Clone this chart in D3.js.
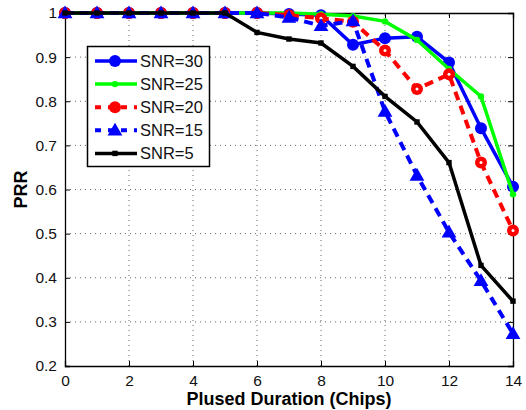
<!DOCTYPE html>
<html>
<head>
<meta charset="utf-8">
<script src="https://cdn.jsdelivr.net/npm/d3@7"></script>
<style>
  body { margin: 0; background: #fff; }
  text { font-family: "Liberation Sans", Arial, sans-serif; }
</style>
</head>
<body>
<div id="chart"></div>
<script>
// data
const durations = [0, 1, 2, 3, 4, 5, 6, 7, 8, 9, 10, 11, 12, 13, 14]
const snr30 = [1, 1, 1, 1, 1, 1, 1, 0.998, 0.995, 0.928, 0.943, 0.946, 0.888, 0.739, 0.606]
const snr25 = [1, 1, 1, 1, 1, 1, 1, 1, 0.997, 0.993, 0.981, 0.939, 0.873, 0.811, 0.589]
const snr20 = [1, 1, 1, 1, 1, 1, 1, 0.995, 0.988, 0.98, 0.915, 0.828, 0.861, 0.661, 0.507]
const snr15 = [1, 1, 1, 1, 1, 1, 1, 0.99, 0.971, 0.982, 0.777, 0.632, 0.503, 0.393, 0.273]
const snr5 = [1, 1, 1, 1, 1, 1, 0.956, 0.941, 0.932, 0.879, 0.811, 0.753, 0.661, 0.428, 0.347]
const xTicks = [0, 2, 4, 6, 8, 10, 12, 14]
const yTicks = [0.2, 0.3, 0.4, 0.5, 0.6, 0.7, 0.8, 0.9, 1]

const series = [
  {name: "SNR=30", values: snr30, color: "#0000ff", dash: null, marker: "circle", r: 6},
  {name: "SNR=25", values: snr25, color: "#00ff00", dash: null, marker: "dot", r: 3.2},
  {name: "SNR=20", values: snr20, color: "#ff0000", dash: "9,6", marker: "ring", r: 6},
  {name: "SNR=15", values: snr15, color: "#0000ff", dash: "9,6", marker: "triangle", r: 7.5},
  {name: "SNR=5", values: snr5, color: "#000000", dash: null, marker: "square", r: 2.7}
]

const width = 526
const height = 410
const margin = {top: 13, right: 13, bottom: 44, left: 65}

const svg = d3.select("#chart")
  .append("svg")
    .attr("width", width)
    .attr("height", height)

const x = d3.scaleLinear().domain([0, 14]).range([margin.left, width - margin.right])
const y = d3.scaleLinear().domain([0.2, 1]).range([height - margin.bottom, margin.top])

// dotted grid
svg.append("g").selectAll("line")
  .data(xTicks.slice(1, -1))
  .join("line")
    .attr("x1", d => x(d)).attr("x2", d => x(d))
    .attr("y1", y(0.2)).attr("y2", y(1))
    .attr("stroke", "#666").attr("stroke-width", 1).attr("stroke-dasharray", "1,4")
svg.append("g").selectAll("line")
  .data(yTicks.slice(1, -1))
  .join("line")
    .attr("x1", x(0)).attr("x2", x(14))
    .attr("y1", d => y(d)).attr("y2", d => y(d))
    .attr("stroke", "#666").attr("stroke-width", 1).attr("stroke-dasharray", "1,4")

// axes, ticks pointing inward
const xAxis = svg.append("g")
  .attr("transform", `translate(0,${y(0.2)})`)
  .call(d3.axisBottom(x).tickValues(xTicks).tickSize(-5).tickPadding(9).tickFormat(d3.format("d")))
const xTop = svg.append("g")
  .attr("transform", `translate(0,${y(1)})`)
  .call(d3.axisTop(x).tickValues(xTicks).tickSize(-5).tickFormat(""))
const yAxis = svg.append("g")
  .attr("transform", `translate(${x(0)},0)`)
  .call(d3.axisLeft(y).tickValues(yTicks).tickSize(-5).tickPadding(8).tickFormat(d => d === 1 ? "1" : d3.format(".1f")(d)))
const yRight = svg.append("g")
  .attr("transform", `translate(${x(14)},0)`)
  .call(d3.axisRight(y).tickValues(yTicks).tickSize(-5).tickFormat(""))

;[xAxis, xTop, yAxis, yRight].forEach(g => {
  g.select(".domain").attr("stroke", "#000").attr("stroke-width", 1.3)
  g.selectAll(".tick line").attr("stroke", "#000")
  g.selectAll("text").attr("font-size", 15.5).attr("fill", "#111")
    .style("font-family", "'Liberation Sans', Arial, sans-serif")
})

svg.append("text")
  .attr("x", (x(0) + x(14)) / 2)
  .attr("y", 405)
  .attr("text-anchor", "middle")
  .attr("font-size", 18).attr("font-weight", "bold")
  .text("Plused Duration (Chips)")

svg.append("text")
  .attr("transform", `translate(27,${(y(0.2) + y(1)) / 2}) rotate(-90)`)
  .attr("text-anchor", "middle")
  .attr("font-size", 18).attr("font-weight", "bold")
  .text("PRR")

// marker drawing
function drawMarker(g, s, cx, cy, legend) {
  if (s.marker === "circle" || s.marker === "dot") {
    g.append("circle").attr("cx", cx).attr("cy", cy).attr("r", s.r).attr("fill", s.color)
  } else if (s.marker === "ring") {
    g.append("circle").attr("cx", cx).attr("cy", cy).attr("r", s.r).attr("fill", s.color)
    if (!legend) g.append("circle").attr("cx", cx).attr("cy", cy).attr("r", 1.5).attr("fill", "#fff")
  } else if (s.marker === "triangle") {
    g.append("path")
      .attr("d", d3.symbol().type(d3.symbolTriangle).size(95))
      .attr("transform", `translate(${cx},${cy + 1})`)
      .attr("fill", s.color)
  } else {
    g.append("rect").attr("x", cx - s.r).attr("y", cy - s.r)
      .attr("width", s.r * 2).attr("height", s.r * 2).attr("fill", s.color)
  }
}

const line = d3.line().x((d, i) => x(durations[i])).y(d => y(d))

series.forEach(s => {
  const g = svg.append("g")
  g.append("path")
    .attr("d", line(s.values))
    .attr("fill", "none")
    .attr("stroke", s.color)
    .attr("stroke-width", s.dash ? 4 : 3.5)
    .attr("stroke-dasharray", s.dash)
  s.values.forEach((v, i) => drawMarker(g, s, x(durations[i]), y(v), false))
})

// legend
const legend = svg.append("g")
legend.append("rect")
  .attr("x", 87.5).attr("y", 46.5).attr("width", 122).attr("height", 120)
  .attr("fill", "#fff").attr("stroke", "#000").attr("stroke-width", 1.5)

series.forEach((s, i) => {
  const ly = 61 + i * 23.1
  legend.append("line")
    .attr("x1", 95).attr("x2", 137).attr("y1", ly).attr("y2", ly)
    .attr("stroke", s.color).attr("stroke-width", s.dash ? 4 : 3.5)
    .attr("stroke-dasharray", s.dash ? "6,7" : null)
  drawMarker(legend, s, 115, ly, true)
  legend.append("text")
    .attr("x", 140).attr("y", ly + 6)
    .attr("font-size", 16.5).attr("fill", "#111")
    .text(s.name)
})
</script>
</body>
</html>
